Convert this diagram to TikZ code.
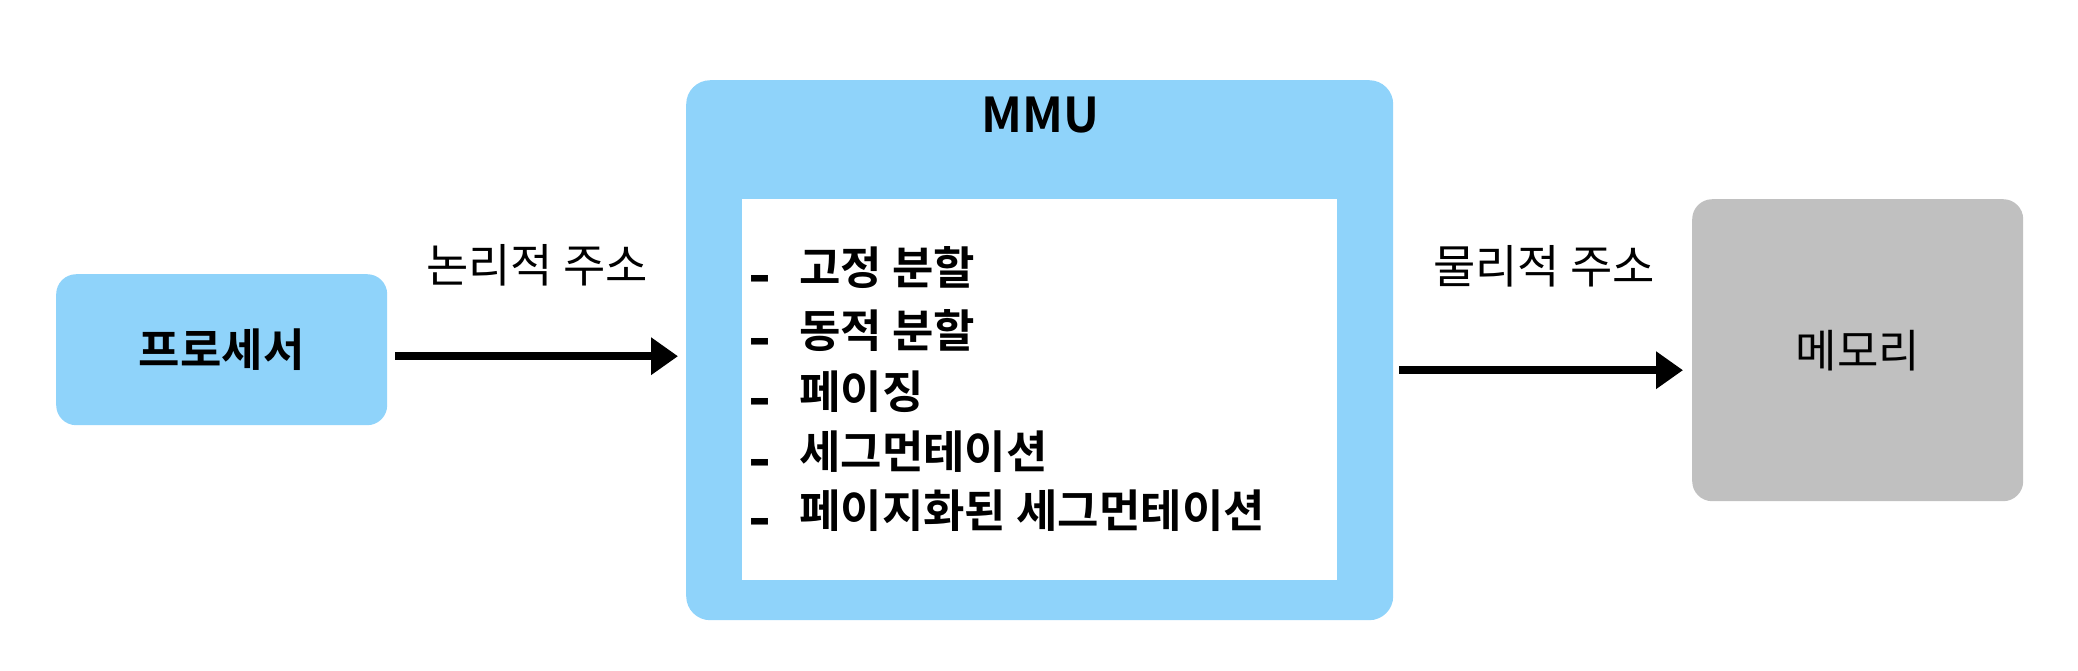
\documentclass[tikz,border=0pt]{standalone}
\usepackage{fontspec}
\newfontfamily\kr{Noto Sans CJK KR}[BoldFont={Noto Sans CJK KR Bold}]
\usetikzlibrary{arrows.meta,calc}
\definecolor{boxblue}{HTML}{8FD3FA}
\definecolor{memgray}{HTML}{C0C0C0}
\begin{document}
\begin{tikzpicture}[x=1pt,y=-1pt,
  blk/.style={rounded corners=20pt, inner sep=0pt, anchor=north west, draw=none},
  bigtxt/.style={font=\kr\bfseries\fontsize{45pt}{52pt}\selectfont, inner sep=0pt},
  lbl/.style={font=\kr\fontsize{46pt}{54pt}\selectfont, inner sep=0pt},
  item/.style={font=\kr\bfseries\fontsize{45pt}{52pt}\selectfont, inner sep=0pt, anchor=west},
  dashmark/.style={font=\kr\bfseries\fontsize{62pt}{70pt}\selectfont, inner sep=0pt},
  arr/.style={line width=8pt, -{Triangle[length=27pt,width=36pt]}}]
\useasboundingbox (0,0) rectangle (2078,670);
\node[blk, fill=boxblue, minimum width=331pt, minimum height=151pt] (proc) at (56,274) {};
\node[blk, fill=boxblue, minimum width=707pt, minimum height=540pt, rounded corners=24pt] (mmu) at (686,80) {};
\node[blk, fill=white, rounded corners=0pt, minimum width=595pt, minimum height=381pt] (inner) at (742,199) {};
\node[blk, fill=memgray, minimum width=331pt, minimum height=302pt] (mem) at (1692,199) {};

\node[bigtxt] (proctxt) at (proc.center) {프로세서};
\node[lbl, font=\kr\fontsize{45pt}{52pt}\selectfont] (memtxt) at (mem.center) {메모리};
\node[bigtxt, font=\kr\bfseries\fontsize{48pt}{56pt}\selectfont] (mmutxt) at (1040,115) {MMU};

\node[lbl] (lab1) at (537,265) {논리적 주소};
\node[lbl] (lab2) at (1544,266) {물리적 주소};

\node[dashmark] (d1) at (760,286) {-};
\node[dashmark] (d2) at (760,349) {-};
\node[dashmark] (d3) at (760,409) {-};
\node[dashmark] (d4) at (760,470) {-};
\node[dashmark] (d5) at (760,529) {-};
\node[item] (i1) at (799,268) {고정 분할};
\node[item] (i2) at (799,331) {동적 분할};
\node[item] (i3) at (799,392) {페이징};
\node[item] (i4) at (799,452) {세그먼테이션};
\node[item] (i5) at (799,511) {페이지화된 세그먼테이션};

\draw[arr] ($(proc.east)+(8,6.5)$) -- ($(mmu.west |- proc.east)+(-8,6.5)$);
\draw[arr] ($(mmu.east |- mem.west)+(6,20)$) -- ($(mem.west)+(-9,20)$);
\end{tikzpicture}
\end{document}
